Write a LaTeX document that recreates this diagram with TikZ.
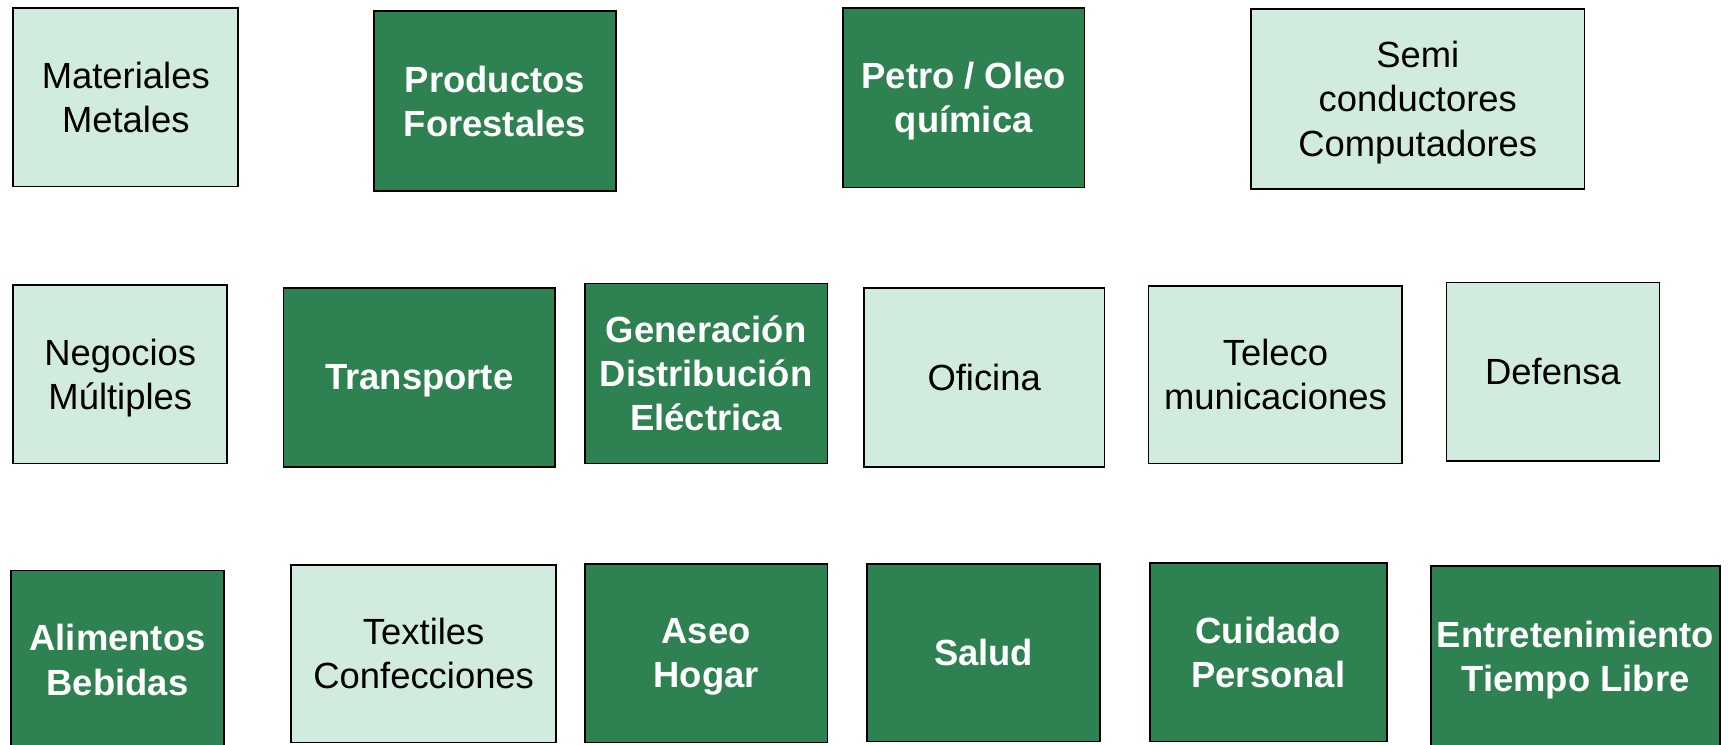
\documentclass[tikz,border=0pt]{standalone}
\usepackage{fontspec}
\setmainfont{Liberation Sans}
\usepackage{xcolor}
\definecolor{hojaosc}{RGB}{46,129,81}
\definecolor{hojacla}{RGB}{209,236,222}
\usetikzlibrary{positioning}

\begin{document}
\begin{tikzpicture}[x=0.5pt, y=-0.5pt, box/.style={draw=black, line width=0.8pt, rectangle, align=center, inner sep=0pt, text depth=0pt, font=\fontsize{16.5}{20}\selectfont}, lightbox/.style={box, fill=hojacla, text=black}, darkbox/.style={box, fill=hojaosc, text=white, font=\fontsize{16.5}{20}\selectfont\bfseries}]
	\clip (0,0) rectangle (1568,675);

	% fila de arriba
	\node (mat) at (114,88) [lightbox, minimum width=102pt, minimum height=81pt] {Materiales\\Metales};
	\node (prod) at (448.5,91.5) [darkbox, minimum width=109.5pt, minimum height=81.5pt] {Productos\\Forestales};
	\node (petro) at (873.5,88.5) [darkbox, minimum width=109.5pt, minimum height=81.5pt] {Petro / Oleo\\química};
	\node (semi) at (1285,89.5) [lightbox, minimum width=151pt, minimum height=81.5pt] {Semi\\conductores\\Computadores};

	% fila del medio
	\node (neg) at (109,339) [lightbox, minimum width=97pt, minimum height=81pt] {Negocios\\Múltiples};
	\node (trans) at (380,342) [darkbox, minimum width=123pt, minimum height=81pt] {Transporte};
	\node (gen) at (640,338.5) [darkbox, minimum width=110pt, minimum height=81.5pt] {Generación\\Distribución\\Eléctrica};
	\node (ofi) at (892,342) [lightbox, minimum width=109pt, minimum height=81pt] {Oficina};
	\node (tel) at (1156,339.5) [lightbox, minimum width=115pt, minimum height=80.5pt] {Teleco\\municaciones};
	\node (def) at (1407.5,337) [lightbox, minimum width=96.5pt, minimum height=81pt] {Defensa};

	% fila de abajo, se sale del borde
	\node (ali) at (106.5,598) [darkbox, minimum width=96.5pt, minimum height=81pt] {Alimentos\\Bebidas};
	\node (tex) at (384,592.5) [lightbox, minimum width=120pt, minimum height=80.5pt] {Textiles\\Confecciones};
	\node (aseo) at (640,592) [darkbox, minimum width=110pt, minimum height=81pt] {Aseo\\Hogar};
	\node (salud) at (891.5,591.5) [darkbox, minimum width=105.5pt, minimum height=80.5pt] {Salud};
	\node (cuid) at (1149.5,591) [darkbox, minimum width=107.5pt, minimum height=81pt] {Cuidado\\Personal};
	\node (ent) at (1428,595) [darkbox, minimum width=131pt, minimum height=82pt] {Entretenimiento\\Tiempo Libre};
\end{tikzpicture}
\end{document}
